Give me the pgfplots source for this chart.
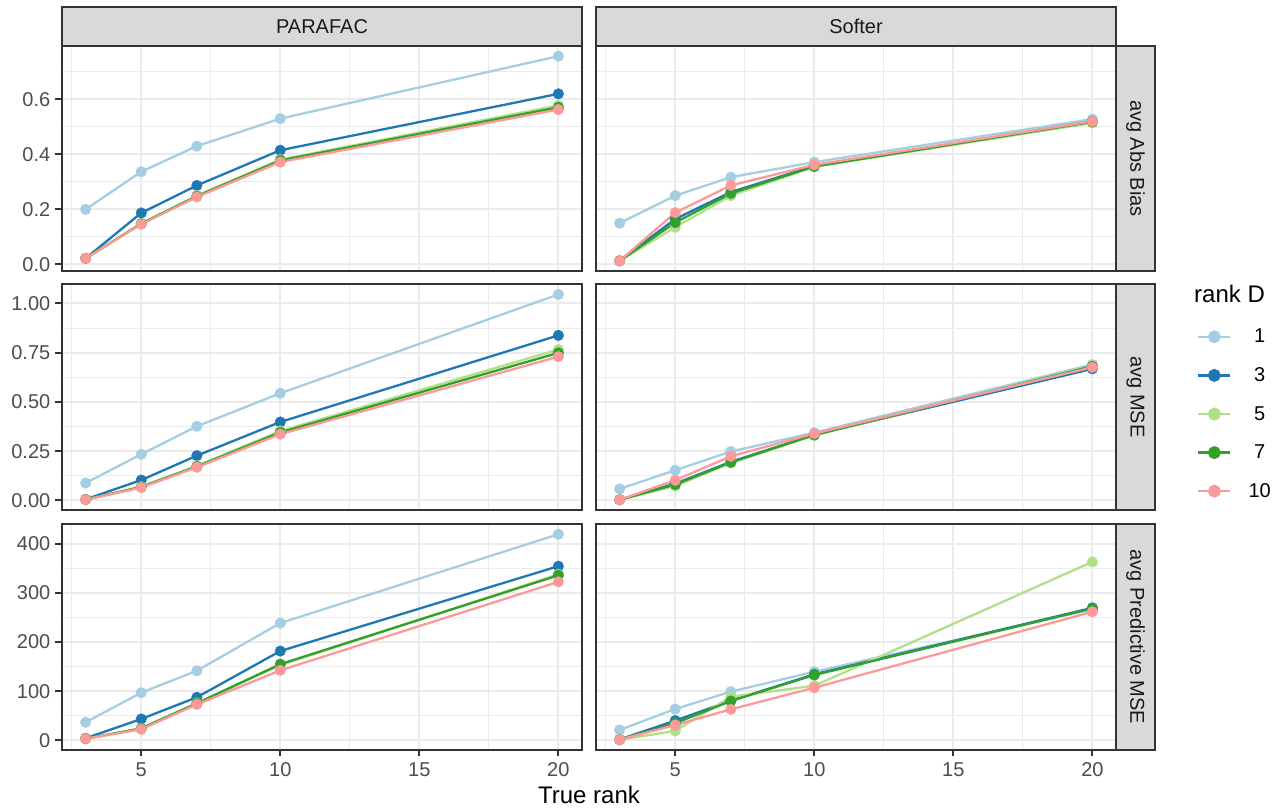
\documentclass[border=0pt]{standalone}
\usepackage{fontspec}
\setmainfont{Liberation Sans}
\usepackage{pgfplots}
\usepackage{pgfplotstable}
\pgfplotsset{compat=1.18}

\definecolor{cA}{HTML}{A6CEE3}
\definecolor{cB}{HTML}{1F78B4}
\definecolor{cC}{HTML}{B2DF8A}
\definecolor{cD}{HTML}{33A02C}
\definecolor{cE}{HTML}{FB9A99}
\definecolor{gridc}{HTML}{EBEBEB}
\definecolor{borderc}{HTML}{333333}
\definecolor{tickc}{HTML}{4D4D4D}
\definecolor{stripc}{HTML}{D9D9D9}
\definecolor{striptext}{HTML}{1A1A1A}

% PARAFAC, avg Abs Bias
\pgfplotstableread{
x d1 d3 d5 d7 d10
3 0.200 0.022 0.022 0.022 0.022
5 0.337 0.187 0.149 0.148 0.146
7 0.430 0.287 0.250 0.248 0.245
10 0.530 0.415 0.381 0.378 0.372
20 0.757 0.620 0.578 0.571 0.563
}\pA
% Softer, avg Abs Bias
\pgfplotstableread{
x d1 d3 d5 d7 d10
3 0.150 0.013 0.013 0.013 0.013
5 0.250 0.165 0.135 0.152 0.188
7 0.317 0.263 0.250 0.258 0.287
10 0.372 0.358 0.355 0.356 0.362
20 0.528 0.520 0.514 0.518 0.520
}\sA
% PARAFAC, avg MSE
\pgfplotstableread{
x d1 d3 d5 d7 d10
3 0.088 0.005 0.004 0.004 0.003
5 0.234 0.103 0.070 0.068 0.065
7 0.376 0.227 0.175 0.172 0.168
10 0.544 0.398 0.352 0.345 0.336
20 1.046 0.838 0.766 0.749 0.730
}\pM
% Softer, avg MSE
\pgfplotstableread{
x d1 d3 d5 d7 d10
3 0.058 0.003 0.003 0.003 0.003
5 0.153 0.085 0.073 0.080 0.102
7 0.248 0.196 0.190 0.193 0.224
10 0.344 0.333 0.330 0.332 0.339
20 0.690 0.668 0.685 0.681 0.676
}\sM
% PARAFAC, avg Predictive MSE
\pgfplotstableread{
x d1 d3 d5 d7 d10
3 36.6 4.0 3.0 3.0 3.0
5 96.9 43.3 24.5 24.0 22.4
7 141.6 87.5 76.0 75.0 73.0
10 238.7 181.7 153.0 155.0 142.4
20 419.7 354.6 338.0 336.0 322.7
}\pP
% Softer, avg Predictive MSE
\pgfplotstableread{
x d1 d3 d5 d7 d10
3 21.0 1.5 1.0 1.0 1.2
5 63.7 40.0 19.0 34.6 31.0
7 99.0 80.6 88.7 80.0 63.0
10 139.6 134.3 111.0 132.9 107.0
20 266.5 269.8 363.4 268.6 261.7
}\sP

\pgfplotsset{
  panel/.style={
    scale only axis, anchor=south west, width=520pt,
    xmin=2.15, xmax=20.85,
    xtick={5,10,15,20}, minor xtick={2.5,7.5,12.5,17.5},
    xticklabels={5,10,15,20},
    grid=both,
    major grid style={draw=gridc, line width=2pt},
    minor grid style={draw=gridc, line width=1pt},
    axis line style={draw=borderc, line width=2.4pt},
    tick align=outside, tick pos=left,
    major tick length=6.5pt, minor tick length=0pt,
    major tick style={draw=borderc, line width=2pt},
    ticklabel style={font=\fontsize{20}{24}\selectfont, text=tickc, inner sep=0pt},
    yticklabel style={xshift=-5pt},
    xticklabel style={yshift=-6pt},
    /pgf/number format/assume math mode=true,
    clip mode=individual,
  },
  noxt/.style={xticklabels={}, xtick style={draw opacity=0}},
  noyt/.style={yticklabels={}, ytick style={draw opacity=0}},
  row1/.style={ymin=-0.024, ymax=0.794, height=225pt,
    ytick={0,0.2,0.4,0.6}, minor ytick={0.1,0.3,0.5,0.7},
    yticklabels={0.0,0.2,0.4,0.6}},
  row2/.style={ymin=-0.049, ymax=1.099, height=226pt,
    ytick={0,0.25,0.5,0.75,1}, minor ytick={0.125,0.375,0.625,0.875},
    yticklabels={0.00,0.25,0.50,0.75,1.00}},
  row3/.style={ymin=-19.9, ymax=440.6, height=226pt,
    ytick={0,100,200,300,400}, minor ytick={50,150,250,350},
    yticklabels={0,100,200,300,400}},
  ln/.style={color=#1, line width=2.3pt, mark=none},
  pt/.style={color=#1, only marks, mark=*, mark size=5.3pt, line width=0.4pt},
}

\newcommand{\panelplots}[1]{%
  \addplot[ln=cA] table[x=x,y=d1]{#1};
  \addplot[ln=cB] table[x=x,y=d3]{#1};
  \addplot[ln=cC] table[x=x,y=d5]{#1};
  \addplot[ln=cD] table[x=x,y=d7]{#1};
  \addplot[ln=cE] table[x=x,y=d10]{#1};
  \addplot[pt=cA] table[x=x,y=d1]{#1};
  \addplot[pt=cB] table[x=x,y=d3]{#1};
  \addplot[pt=cC] table[x=x,y=d5]{#1};
  \addplot[pt=cD] table[x=x,y=d7]{#1};
  \addplot[pt=cE] table[x=x,y=d10]{#1};
}

\begin{document}
\begin{tikzpicture}
\path[use as bounding box, fill=white] (0pt,0pt) rectangle (1278pt,808pt);

% row 1
\begin{axis}[panel, row1, noxt, at={(62pt,537pt)}]
\panelplots{\pA}
\end{axis}
\begin{axis}[panel, row1, noxt, noyt, at={(596pt,537pt)}]
\panelplots{\sA}
\end{axis}
% row 2
\begin{axis}[panel, row2, noxt, noyt, at={(596pt,298pt)},
  legend style={at={(1.1558,0.4248)}, anchor=west, draw=none, fill=none,
    inner sep=0pt, font=\fontsize{20}{24}\selectfont,
    nodes={inner sep=0pt, minimum height=38.6pt, anchor=center},
    /tikz/every odd column/.append style={column sep=17pt}},
  legend cell align=center,
  legend image code/.code={%
    \draw[#1, line width=2.3pt] (0pt,0pt) -- (32pt,0pt);
    \fill[#1] (16pt,0pt) circle (5.3pt);}]
\panelplots{\sM}
\legend{}
\addlegendimage{color=cA}
\addlegendentry{1}
\addlegendimage{color=cB}
\addlegendentry{3}
\addlegendimage{color=cC}
\addlegendentry{5}
\addlegendimage{color=cD}
\addlegendentry{7}
\addlegendimage{color=cE}
\addlegendentry{10}
\end{axis}
\begin{axis}[panel, row2, noxt, at={(62pt,298pt)}]
\panelplots{\pM}
\end{axis}
% row 3
\begin{axis}[panel, row3, at={(62pt,58pt)}]
\panelplots{\pP}
\end{axis}
\begin{axis}[panel, row3, noyt, at={(596pt,58pt)}]
\panelplots{\sP}
\end{axis}

% strips
\begin{scope}[draw=borderc, line width=2.4pt, fill=stripc]
\filldraw (62pt,762pt) rectangle (582pt,801pt);
\filldraw (596pt,762pt) rectangle (1116pt,801pt);
\filldraw (1116pt,537pt) rectangle (1155pt,762pt);
\filldraw (1116pt,298pt) rectangle (1155pt,524pt);
\filldraw (1116pt,58pt) rectangle (1155pt,284pt);
\end{scope}
\begin{scope}[every node/.style={font=\fontsize{20}{24}\selectfont, text=striptext, inner sep=0pt}]
\node at (322pt,781.5pt) {PARAFAC};
\node at (856pt,781.5pt) {Softer};
\node[rotate=-90] at (1135.5pt,649.5pt) {avg Abs Bias};
\node[rotate=-90] at (1135.5pt,411pt) {avg MSE};
\node[rotate=-90] at (1135.5pt,171pt) {avg Predictive MSE};
\end{scope}

\node[anchor=base, inner sep=0pt, font=\fontsize{24}{29}\selectfont] at (589pt,4pt) {True rank};
\node[anchor=west, inner sep=0pt, font=\fontsize{24}{29}\selectfont] at (1194pt,514pt) {rank D};
\end{tikzpicture}
\end{document}
